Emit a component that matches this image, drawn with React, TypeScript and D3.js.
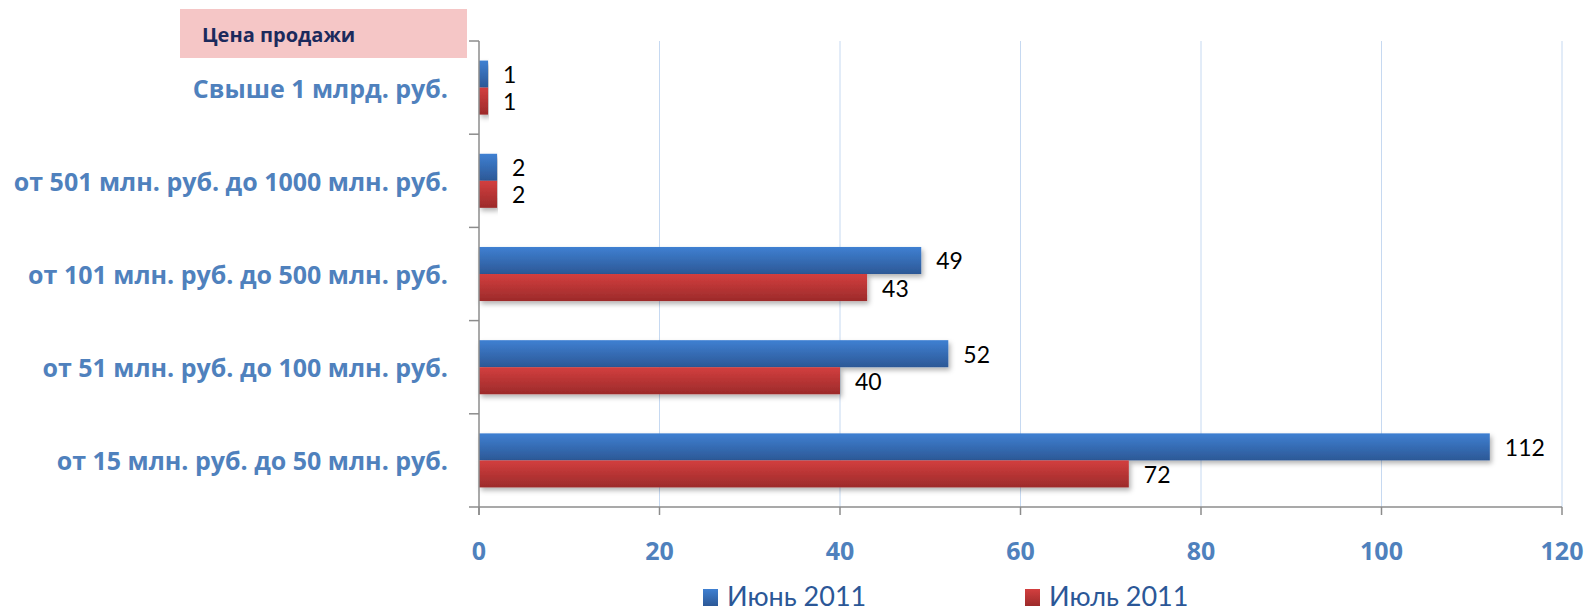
import React from 'react';
import * as d3 from 'd3';

const categories = [
  'Свыше 1 млрд. руб.',
  'от 501 млн. руб. до 1000 млн. руб.',
  'от 101 млн. руб. до 500 млн. руб.',
  'от 51 млн. руб. до 100 млн. руб.',
  'от 15 млн. руб. до 50 млн. руб.',
];
const seriesNames = ['Июнь 2011', 'Июль 2011'];
const juneValues = [1, 2, 49, 52, 112];
const julyValues = [1, 2, 43, 40, 72];
const xTicks = [0, 20, 40, 60, 80, 100, 120];
const headerText = 'Цена продажи';

const W = 1587;
const H = 612;
const font = 'Lato, "Open Sans", "DejaVu Sans", sans-serif';
const wideFont = '"Open Sans", Lato, "DejaVu Sans", sans-serif';

const App: React.FC = () => {
  const x = d3.scaleLinear().domain([0, 120]).range([479, 1562]);
  const y = d3.scaleBand<string>().domain(categories).range([41, 507]);
  const bw = y.bandwidth();
  const sub = d3.scaleBand<string>().domain(seriesNames).range([bw * 0.21, bw * 0.79]);
  const series = [
    { name: seriesNames[0], values: juneValues, grad: 'gBlue', top: '#3f80d2', bot: '#2c5896' },
    { name: seriesNames[1], values: julyValues, grad: 'gRed', top: '#d33f3f', bot: '#9c2a2a' },
  ];
  const x0 = x(0);

  return (
    <svg width={W} height={H} style={{ position: 'absolute', left: 0, top: 0, background: '#fff' }}>
      <defs>
        {series.map((s) => (
          <linearGradient key={s.grad} id={s.grad} x1="0" y1="0" x2="0" y2="1">
            <stop offset="0%" stopColor={s.top} />
            <stop offset="100%" stopColor={s.bot} />
          </linearGradient>
        ))}
        <filter id="shadow" x="-5%" y="-30%" width="110%" height="180%">
          <feDropShadow dx="2" dy="3" stdDeviation="2.5" floodColor="#000" floodOpacity="0.3" />
        </filter>
      </defs>

      {/* header */}
      <rect x={180} y={9} width={287} height={49} fill="#f5c6c6" />
      <text x={202} y={42} fontFamily={wideFont} fontWeight={700} fontSize={20} fill="#1b2a5c">
        {headerText}
      </text>

      {/* gridlines */}
      {xTicks.filter((t) => t > 0).map((t) => (
        <line key={t} x1={x(t)} x2={x(t)} y1={41} y2={507} stroke="#c6d9f1" strokeWidth={1} />
      ))}

      {/* bars */}
      {categories.map((c, i) => (
        <g key={c}>
          {series.map((s) => (
            <rect
              key={s.name}
              x={x0}
              y={(y(c) as number) + (sub(s.name) as number)}
              width={x(s.values[i]) - x0}
              height={sub.bandwidth()}
              fill={`url(#${s.grad})`}
              filter="url(#shadow)"
            />
          ))}
        </g>
      ))}

      {/* value labels */}
      {categories.map((c, i) =>
        series.map((s) => (
          <text
            key={c + s.name}
            x={x(s.values[i]) + 15}
            y={(y(c) as number) + (sub(s.name) as number) + sub.bandwidth() / 2}
            dominantBaseline="central"
            fontFamily={font}
            fontSize={23}
            fill="#000"
          >
            {s.values[i]}
          </text>
        ))
      )}

      {/* axes */}
      <line x1={x0} x2={x0} y1={41} y2={515} stroke="#8c8c8c" strokeWidth={1.5} />
      <line x1={469} x2={x(120)} y1={507} y2={507} stroke="#8c8c8c" strokeWidth={1.5} />
      {y.domain().map((c) => (
        <line key={c} x1={469} x2={x0} y1={y(c) as number} y2={y(c) as number} stroke="#8c8c8c" strokeWidth={1.5} />
      ))}
      {xTicks.map((t) => (
        <line key={t} x1={x(t)} x2={x(t)} y1={507} y2={515} stroke="#8c8c8c" strokeWidth={1.5} />
      ))}

      {/* category labels */}
      {categories.map((c) => (
        <text
          key={c}
          x={448}
          y={(y(c) as number) + bw / 2}
          dominantBaseline="central"
          textAnchor="end"
          fontFamily={wideFont}
          fontWeight={700}
          fontSize={25}
          fill="#4f81bd"
        >
          {c}
        </text>
      ))}

      {/* x tick labels */}
      {xTicks.map((t) => (
        <text
          key={t}
          x={x(t)}
          y={560}
          textAnchor="middle"
          fontFamily={wideFont}
          fontWeight={700}
          fontSize={25}
          fill="#4f81bd"
        >
          {t}
        </text>
      ))}

      {/* legend */}
      {series.map((s, i) => {
        const lx = [703, 1025][i];
        return (
          <g key={s.name}>
            <rect x={lx} y={589} width={15} height={17} fill={`url(#${s.grad})`} />
            <text x={lx + 24} y={606} fontFamily={font} fontSize={27} fill="#2b5797">
              {s.name}
            </text>
          </g>
        );
      })}
    </svg>
  );
};

export default App;
